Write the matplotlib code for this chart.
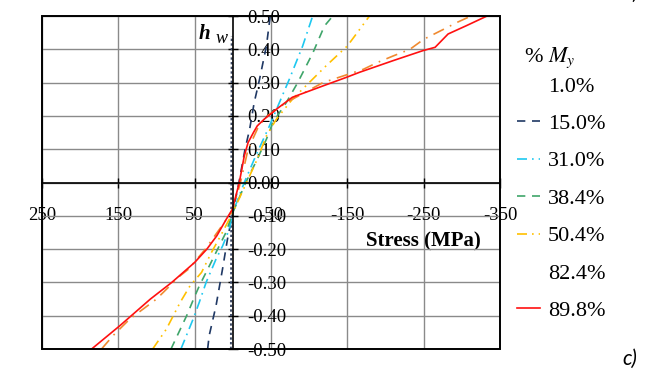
import matplotlib
matplotlib.use('Agg')
import matplotlib.pyplot as plt
from matplotlib.lines import Line2D
from matplotlib.patches import Rectangle

plt.rcParams['font.family'] = 'Liberation Serif'
plt.rcParams['mathtext.fontset'] = 'stix'
plt.rcParams['axes.unicode_minus'] = False

# % of M_y for each curve
labels = ['1.0%', '15.0%', '31.0%', '38.4%', '50.4%', '82.4%', '89.8%']

# h_w positions and stress (MPa) of each curve
hw_1 = [-0.50, 0.00, 0.44]
s_1 = [2.5, 2.0, 1.5]

hw_15 = [-0.50, -0.46, -0.37, -0.26, -0.17, -0.09, 0.00, 0.10, 0.16, 0.24, 0.31, 0.41, 0.50]
s_15 = [33, 31, 22, 13.5, 7, 0, -8, -16, -22, -28, -35, -44, -49]

hw_31 = [-0.50, -0.41, -0.36, -0.30, -0.23, -0.19, -0.14, -0.09, 0.00, 0.08, 0.17, 0.24, 0.31, 0.41, 0.50]
s_31 = [68, 52, 44, 35, 22, 13.3, 4.6, 0, -15, -30, -48, -61, -74, -91.5, -104.6]

hw_38 = [-0.50, -0.40, -0.34, -0.31, -0.25, -0.19, -0.15, -0.09, 0.00, 0.07, 0.13, 0.18, 0.24, 0.30, 0.39, 0.47, 0.50]
s_38 = [81, 60.5, 49.6, 43.8, 30.7, 17.7, 9, 0, -17, -32, -44, -52.5, -70, -85, -105, -120, -131]

hw_50 = [-0.50, -0.44, -0.36, -0.31, -0.27, -0.21, -0.16, -0.09, 0.00, 0.07, 0.14, 0.19, 0.25, 0.30, 0.35, 0.41, 0.45, 0.50]
s_50 = [105, 87, 69, 56, 41, 28, 16, 0, -18, -32, -44, -57, -78, -100, -122, -150, -163, -179]

hw_82 = [-0.50, -0.46, -0.41, -0.35, -0.28, -0.26, -0.20, -0.10, -0.08, 0.00, 0.10, 0.17, 0.20, 0.24, 0.30, 0.34, 0.36, 0.38, 0.40, 0.43, 0.46, 0.48, 0.50]
s_82 = [172, 157, 135, 100, 69, 58, 36, 5, 0, -10, -20, -34, -45, -70, -118, -171, -189, -210, -232, -250, -276, -293, -312]

hw_90 = [-0.50, -0.43, -0.35, -0.30, -0.24, -0.20, -0.16, -0.11, -0.08, 0.00, 0.08, 0.12, 0.15, 0.17, 0.19, 0.21, 0.22, 0.256, 0.29, 0.316, 0.331, 0.366, 0.396, 0.406, 0.446, 0.471, 0.50]
s_90 = [185, 148, 108, 80, 50, 34, 21, 8.5, 0.5, -8.5, -15, -20, -27, -32, -41, -52, -57, -78, -118, -149, -166, -210, -249, -265, -282, -306, -333]

x_ticks = [250, 150, 50, -50, -150, -250, -350]
y_ticks = [-0.5, -0.4, -0.3, -0.2, -0.1, 0.0, 0.1, 0.2, 0.3, 0.4, 0.5]

fig = plt.figure(figsize=(6.48, 3.74), dpi=100)
ax = fig.add_axes([0.0648, 0.0668, 0.7068, 0.8904])

l1, = ax.plot(s_1, hw_1, color='#3d4a66', lw=1.4, ls=(0, (1.2, 1.2)))
l15, = ax.plot(s_15, hw_15, color='#1f3864', lw=1.2, ls=(0, (5, 4)))
l31, = ax.plot(s_31, hw_31, color='#1ec8f0', lw=1.2, ls=(0, (6, 3, 1, 3)))
l38, = ax.plot(s_38, hw_38, color='#3fa56a', lw=1.2, ls=(0, (5, 4)))
l50, = ax.plot(s_50, hw_50, color='#ffc000', lw=1.2, ls=(0, (6, 3, 1, 3, 1, 3)))
l82, = ax.plot(s_82, hw_82, color='#f08a30', lw=1.2, ls=(0, (7, 4, 1, 4)))
l90, = ax.plot(s_90, hw_90, color='#ff1010', lw=1.2, ls='-')

ax.set_xlim(250, -350)
ax.set_ylim(-0.5, 0.5)
ax.set_xticks(x_ticks)
ax.set_xticklabels([str(v) for v in x_ticks])
ax.set_yticks(y_ticks)
ax.set_yticklabels(['%.2f' % v for v in y_ticks])
ax.grid(True, color='#8a8a8a', lw=1.0)
ax.set_axisbelow(True)

# axes cross at the origin, outer box drawn separately
ax.spines['left'].set_visible(False)
ax.spines['top'].set_visible(False)
ax.spines['right'].set_position(('data', 0))
ax.spines['bottom'].set_position(('data', 0))
ax.spines['right'].set_linewidth(1.2)
ax.spines['bottom'].set_linewidth(1.2)
ax.yaxis.tick_right()
ax.tick_params(axis='y', direction='inout', length=7, width=1, pad=7, labelsize=13.5)
ax.tick_params(axis='x', direction='inout', length=7, width=1, pad=14, labelsize=13.5)
ax.add_patch(Rectangle((0, 0), 1, 1, transform=ax.transAxes, fill=False,
                       ec='black', lw=1.4, clip_on=False, zorder=3))

ax.set_xlabel('Stress (MPa)', fontweight='bold', fontsize=15, va='center')
ax.xaxis.set_label_coords(0.832, 0.322)
ax.text(0.343, 0.931, 'h', transform=ax.transAxes, fontstyle='italic',
        fontweight='bold', fontsize=15, ha='left', va='baseline')
ax.text(0.378, 0.919, 'w', transform=ax.transAxes, fontstyle='italic',
        fontsize=13, ha='left', va='baseline')

blank = Line2D([], [], ls='none')
handles = [blank, l15, l31, l38, l50, blank, l90]
fig.legend(handles, labels, loc='upper left', bbox_to_anchor=(517 / 648, 1 - 76 / 374),
           frameon=False, fontsize=16, handlelength=1.05, handletextpad=0.35,
           labelspacing=0.76, borderpad=0, borderaxespad=0)
fig.text(524 / 648, 1 - 62 / 374, '% $M_y$', fontsize=16, ha='left', va='baseline')

fig.text(622 / 648, 1 - 365 / 374, 'c)', family='Lato', fontstyle='italic', fontsize=15)
fig.text(622 / 648, 1 + 1 / 374, 'b)', family='Lato', fontstyle='italic', fontsize=15)

fig.savefig('out.png', dpi=100)
